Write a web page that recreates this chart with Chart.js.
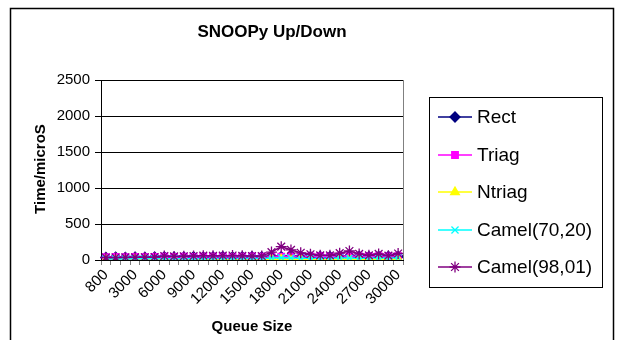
<!DOCTYPE html>
<html>
<head>
<meta charset="utf-8">
<script src="https://cdn.jsdelivr.net/npm/chart.js@4"></script>
<style>
  html, body { margin: 0; padding: 0; background: #fff; }
  #wrap { position: relative; width: 633px; height: 340px; }
</style>
</head>
<body>
<div id="wrap"><canvas id="c" width="633" height="340"></canvas></div>
<script>
// Queue sizes on the category axis
const queueSizes = ['800','1000','2000','3000','4000','5000','6000','7000','8000','9000','10000',
  '11000','12000','13000','14000','15000','16000','17000','18000','19000','20000',
  '21000','22000','23000','24000','25000','26000','27000','28000','29000','30000'];

// Up/Down times in microseconds per queue implementation
const rectTimes   = [36,38,35,39,37,40,42,39,41,44,40,43,45,41,44,46,43,47,45,48,44,46,49,47,45,50,48,46,49,51,47];
const triagTimes  = [40,42,39,43,41,44,45,42,46,44,47,45,48,44,47,49,46,50,48,51,47,49,52,48,50,53,49,51,52,50,54];
const ntriagTimes = [4,5,4,6,5,5,6,5,7,6,6,7,6,7,8,7,7,8,9,8,8,9,8,9,10,9,10,9,10,11,10];
const camel7020Times = [15,16,14,17,16,18,17,19,18,20,19,21,20,22,21,23,22,28,30,27,25,24,26,25,27,28,26,27,28,27,29];
const camel9801Times = [35,34,36,37,38,40,55,50,52,55,60,58,60,62,58,55,55,110,185,140,100,80,65,65,95,125,85,65,85,60,90];

// Y axis tick values
const yTicks = [0, 500, 1000, 1500, 2000, 2500];

const FONT = '"Liberation Sans", Arial, sans-serif';

const series = [
  { label: 'Rect',         data: rectTimes,       color: '#000080', style: 'rectRot',  radius: 5,   order: 4 },
  { label: 'Triag',        data: triagTimes,      color: '#FF00FF', style: 'rect',     radius: 4.6, order: 3 },
  { label: 'Ntriag',       data: ntriagTimes,     color: '#FFFF00', style: 'triangle', radius: 5,   order: 2 },
  { label: 'Camel(70,20)', data: camel7020Times,  color: '#00FFFF', style: 'crossRot', radius: 5,   order: 1 },
  { label: 'Camel(98,01)', data: camel9801Times,  color: '#800080', style: 'star',     radius: 5.5, order: 0 }
];

const datasets = series.map(s => ({
  label: s.label,
  data: s.data,
  borderColor: s.color,
  backgroundColor: s.color,
  pointBackgroundColor: s.color,
  pointBorderColor: s.color,
  pointStyle: s.style,
  pointRadius: s.radius,
  pointBorderWidth: 1.3,
  borderWidth: 1.5,
  tension: 0,
  order: s.order
}));

// Frame, title, axis titles and the boxed legend
const decorations = {
  id: 'decorations',
  beforeDraw(chart) {
    const ctx = chart.ctx;
    ctx.save();
    ctx.fillStyle = '#fff';
    ctx.fillRect(0, 0, chart.width, chart.height);
    ctx.restore();
  },
  afterDraw(chart) {
    const ctx = chart.ctx;
    ctx.save();
    // outer frame
    ctx.strokeStyle = '#000';
    ctx.lineWidth = 1.5;
    ctx.strokeRect(10.5, 8.5, 603, 340);

    // plot area right edge
    const a = chart.chartArea;
    ctx.strokeStyle = '#808080';
    ctx.lineWidth = 1;
    ctx.beginPath();
    ctx.moveTo(a.right + 0.5, a.top);
    ctx.lineTo(a.right + 0.5, a.bottom);
    ctx.stroke();

    ctx.fillStyle = '#000';
    // title
    ctx.font = 'bold 17px ' + FONT;
    ctx.textAlign = 'center';
    ctx.textBaseline = 'middle';
    ctx.fillText('SNOOPy Up/Down', 272, 32);

    // axis titles
    ctx.font = 'bold 15px ' + FONT;
    ctx.fillText('Queue Size', 252, 327);
    ctx.save();
    ctx.translate(41, 169);
    ctx.rotate(-Math.PI / 2);
    ctx.fillText('Time/microS', 0, 0);
    ctx.restore();

    // legend box
    ctx.strokeStyle = '#000';
    ctx.lineWidth = 1;
    ctx.strokeRect(429.5, 97.5, 173, 190);
    const rows = [117, 155, 192, 230, 267];
    ctx.font = '19px ' + FONT;
    ctx.textAlign = 'left';
    series.forEach((s, i) => {
      const y = rows[i];
      ctx.strokeStyle = s.color;
      ctx.lineWidth = 1.5;
      ctx.beginPath();
      ctx.moveTo(438, y);
      ctx.lineTo(472, y);
      ctx.stroke();
      ctx.fillStyle = s.color;
      ctx.strokeStyle = s.color;
      ctx.lineWidth = 1.3;
      Chart.helpers.drawPoint(ctx, { pointStyle: s.style, radius: s.radius, rotation: 0, borderWidth: 1.3 }, 455, y);
      ctx.fillStyle = '#000';
      ctx.fillText(s.label, 477, y + 1);
    });
    ctx.restore();
  }
};

new Chart(document.getElementById('c'), {
  type: 'line',
  data: { labels: queueSizes, datasets },
  plugins: [decorations],
  options: {
    responsive: false,
    animation: false,
    layout: { padding: { left: 0, top: 80, right: 230, bottom: 0 } },
    plugins: { legend: { display: false }, title: { display: false }, tooltip: { enabled: false } },
    scales: {
      x: {
        type: 'category',
        offset: true,
        afterFit(scale) { scale.height = 80; },
        grid: { display: true, drawOnChartArea: false, drawTicks: true, tickLength: 5, offset: true, color: '#808080' },
        border: { display: true, color: '#000', width: 1 },
        ticks: {
          autoSkip: false,
          maxRotation: 45,
          minRotation: 45,
          padding: 1,
          color: '#000',
          font: { family: FONT, size: 15 },
          callback(value, index) { return index % 3 === 0 ? queueSizes[index] : ''; }
        }
      },
      y: {
        min: yTicks[0],
        max: yTicks[yTicks.length - 1],
        afterFit(scale) { scale.width = 101; },
        afterBuildTicks(scale) { scale.ticks = yTicks.map(v => ({ value: v })); },
        grid: { color: '#000', lineWidth: 1, drawTicks: true, tickLength: 6 },
        border: { display: true, color: '#000', width: 1 },
        ticks: {
          padding: 5,
          color: '#000',
          font: { family: FONT, size: 15 },
          callback(value) { return String(value); }
        }
      }
    }
  }
});
</script>
</body>
</html>
